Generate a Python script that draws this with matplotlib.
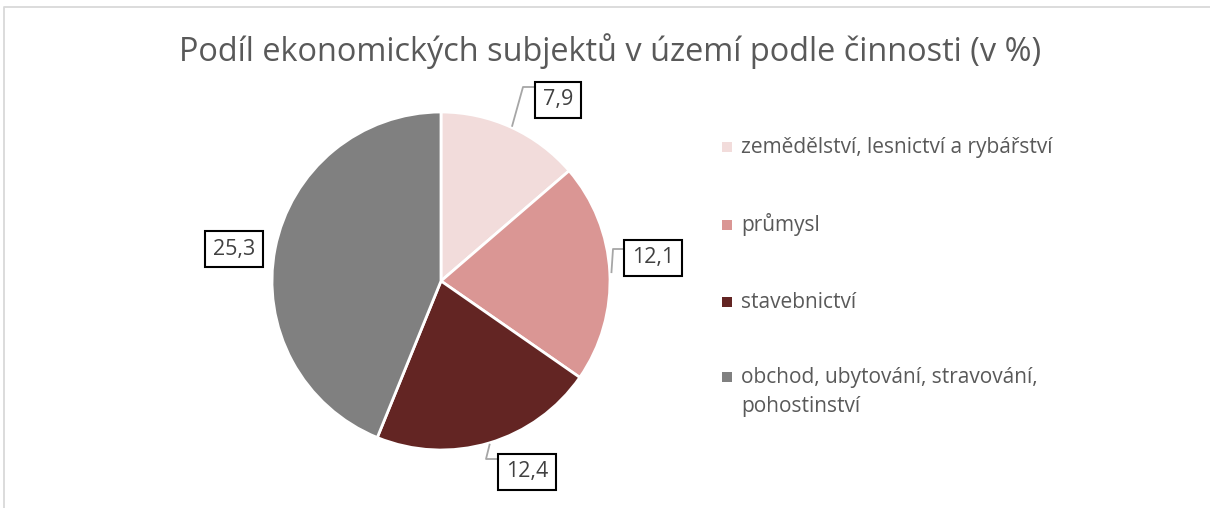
import numpy as np
import matplotlib
matplotlib.use("Agg")
import matplotlib.pyplot as plt
from matplotlib.patches import Rectangle

plt.rcParams['font.family'] = ['Open Sans', 'DejaVu Sans']

# data
categories = [
    "zemědělství, lesnictví a rybářství",
    "průmysl",
    "stavebnictví",
    "obchod, ubytování, stravování,\npohostinství",
]
values = [7.9, 12.1, 12.4, 25.3]
value_labels = ["7,9", "12,1", "12,4", "25,3"]
colors = ["#F2DCDB", "#DA9694", "#632523", "#808080"]
title = "Podíl ekonomických subjektů v území podle činnosti (v %)"

W, H = 1210, 508
TEXT = "#595959"

fig = plt.figure(figsize=(W / 100, H / 100), dpi=100)
ax = fig.add_axes([0, 0, 1, 1])

# pie in pixel coordinates (y measured from the top, flipped)
cx, cy, r = 441, H - 281, 169
wedges, _ = ax.pie(values, colors=colors, startangle=90, counterclock=False,
                   center=(cx, cy), radius=r,
                   wedgeprops=dict(edgecolor="white", linewidth=2))
ax.set_xlim(0, W)
ax.set_ylim(0, H)
ax.set_aspect("equal")
ax.axis("off")

# chart border (cut off at right and bottom)
ax.plot([4, 4, W], [0, H - 6.5, H - 6.5], color="#D9D9D9", lw=1.3)

ax.text(610, H - 51, title, ha="center", va="center", fontsize=23.4, color=TEXT)

# data labels: box centres and leader elbows (pixels from top-left)
box_pos = [(558, 100), (653, 258), (527, 472), (234, 249)]
elbows = [(523, 87), (613, 249), (486, 459), None]
pad_x, box_h = 7.5, 36

renderer = fig.canvas.get_renderer()
for w, lab, (bx, by), elb in zip(wedges, value_labels, box_pos, elbows):
    t = ax.text(bx, H - by, lab, ha="center", va="center", fontsize=15.5,
                color="#404040", zorder=5)
    tw = t.get_window_extent(renderer).width
    bw = tw + 2 * pad_x
    ax.add_patch(Rectangle((bx - bw / 2, H - by - box_h / 2), bw, box_h,
                           fc="white", ec="black", lw=1.5, zorder=4))
    if elb is not None:
        ang = np.deg2rad((w.theta1 + w.theta2) / 2)
        sx = cx + r * 1.01 * np.cos(ang)
        sy = cy + r * 1.01 * np.sin(ang)
        ax.plot([sx, elb[0], bx - bw / 2], [sy, H - elb[1], H - elb[1]],
                color="#A6A6A6", lw=1.3, zorder=3)

# legend (marker aligned with the first line of each entry)
leg_y = [147, 225, 302, 377]
line_gap = 29
for lab, col, y in zip(categories, colors, leg_y):
    ax.scatter([727], [H - y], marker="s", s=55, color=col, linewidths=0)
    for k, line in enumerate(lab.split("\n")):
        ax.text(741, H - y - 6 - k * line_gap, line, ha="left", va="baseline",
                fontsize=15, color=TEXT)

fig.savefig("out.png", dpi=100)
